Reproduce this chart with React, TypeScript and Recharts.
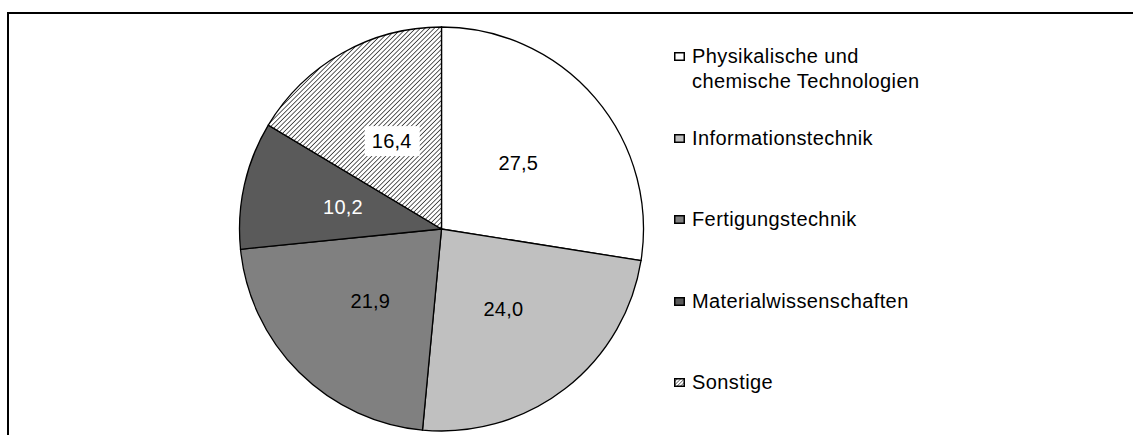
import * as React from 'react';
import { Cell, Legend, Pie, PieChart } from 'recharts';

const categories = [
  'Physikalische und chemische Technologien',
  'Informationstechnik',
  'Fertigungstechnik',
  'Materialwissenschaften',
  'Sonstige',
];
const shares = [27.5, 24.0, 21.9, 10.2, 16.4];
const legendLines = [['Physikalische und', 'chemische Technologien'], ['Informationstechnik'], ['Fertigungstechnik'], ['Materialwissenschaften'], ['Sonstige']];

const fills = ['#ffffff', '#c0c0c0', '#808080', '#5a5a5a', 'url(#hatch)'];
const labelColors = ['#000', '#000', '#000', '#fff', '#000'];
const legendTops = [44, 126, 207, 289, 370];

const data = categories.map((name, i) => ({ name, value: shares[i] }));

const FONT = '"Liberation Sans", Arial, sans-serif';
const RAD = Math.PI / 180;

const fmt = (v: number) => v.toFixed(1).replace('.', ',');

function SliceLabel(props: any) {
  const { cx, cy, midAngle, outerRadius, index, value } = props;
  const r = outerRadius * 0.5;
  const x = cx + r * Math.cos(-midAngle * RAD);
  const y = cy + r * Math.sin(-midAngle * RAD);
  const boxed = index === 4;
  return (
    <g>
      {boxed && <rect x={x - 27} y={y - 15} width={55} height={30} fill="#fff" />}
      <text x={x} y={y} fill={labelColors[index]} textAnchor="middle" dominantBaseline="central" fontFamily={FONT} fontSize={20} letterSpacing={0.2}>
        {fmt(value)}
      </text>
    </g>
  );
}

function Marker({ i }: { i: number }) {
  return (
    <svg width={11} height={9} style={{ position: 'absolute', left: 0, top: 8 }}>
      <defs>
        <pattern id="hatchSmall" width={2.5} height={2.5} patternUnits="userSpaceOnUse" patternTransform="rotate(45)">
          <rect width={2.5} height={2.5} fill="#fff" />
          <line x1={0} y1={0} x2={0} y2={2.5} stroke="#333" strokeWidth={1.2} />
        </pattern>
      </defs>
      <rect x={0.75} y={0.75} width={9.5} height={7.5} fill={i === 4 ? 'url(#hatchSmall)' : fills[i]} stroke="#000" strokeWidth={1.5} />
    </svg>
  );
}

function LegendBox(props: any) {
  const payload = props.payload || [];
  return (
    <div style={{ position: 'relative', fontFamily: FONT, fontSize: 20, letterSpacing: 0.4, color: '#000', lineHeight: '25px' }}>
      {payload.map((p: any, i: number) => (
        <div key={p.value} style={{ position: 'absolute', left: 0, top: legendTops[i], paddingLeft: 18, whiteSpace: 'nowrap' }}>
          <Marker i={i} />
          {legendLines[i].map((l) => (
            <div key={l}>{l}</div>
          ))}
        </div>
      ))}
    </div>
  );
}

export default function App() {
  return (
    <div style={{ position: 'absolute', left: 0, top: 0, width: 1133, height: 435, background: '#fff', overflow: 'hidden' }}>
      <div style={{ position: 'absolute', left: 7, top: 12, width: 1126, height: 423, borderTop: '2px solid #000', borderLeft: '2px solid #000', boxSizing: 'border-box' }} />
      <PieChart width={1133} height={435} margin={{ top: 0, right: 0, bottom: 0, left: 0 }}>
        <defs>
          <pattern id="hatch" width={3.3} height={3.3} patternUnits="userSpaceOnUse" patternTransform="rotate(45)">
            <rect width={3.3} height={3.3} fill="#fff" />
            <line x1={0} y1={0} x2={0} y2={3.3} stroke="#262626" strokeWidth={1.5} />
          </pattern>
        </defs>
        <Pie
          data={data}
          dataKey="value"
          nameKey="name"
          cx={441.5}
          cy={229}
          outerRadius={202}
          startAngle={90}
          endAngle={-270}
          stroke="#000"
          strokeWidth={1.3}
          label={SliceLabel}
          labelLine={false}
          isAnimationActive={false}
        >
          {data.map((d, i) => (
            <Cell key={d.name} fill={fills[i]} />
          ))}
        </Pie>
        <Legend content={LegendBox} wrapperStyle={{ position: 'absolute', left: 674, top: 0, width: 300, height: 435 }} />
      </PieChart>
    </div>
  );
}
